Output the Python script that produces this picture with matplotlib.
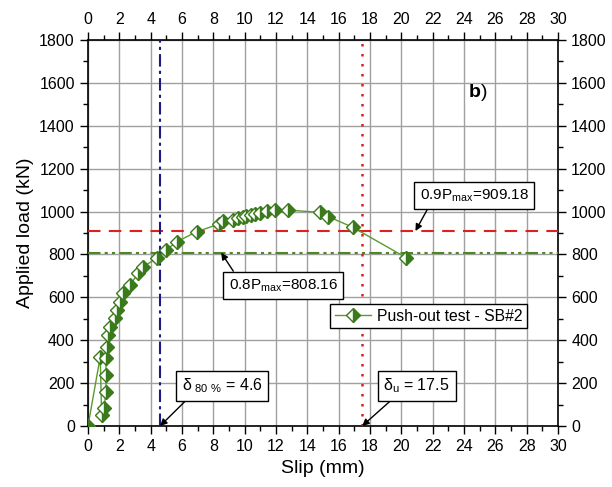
import matplotlib.pyplot as plt
import numpy as np
from matplotlib.ticker import MultipleLocator

plt.rcParams['font.family'] = ['Liberation Sans', 'DejaVu Sans']

# Push-out test SB#2 data (slip in mm, load in kN)
slip = [0.0, 0.78, 0.87, 1.02, 1.15, 1.15, 1.15, 1.23, 1.3, 1.4, 1.72, 1.83, 2.04,
        2.25, 2.68, 3.21, 3.53, 4.38, 4.98, 5.7, 6.94, 8.38, 8.64, 9.27, 9.6, 9.87,
        10.1, 10.4, 10.66, 10.98, 11.4, 11.93, 12.74, 14.8, 15.34, 16.89, 20.3]
load = [0, 322, 51, 84, 159, 238, 317, 370, 424, 463, 503, 541, 580,
        619, 658, 712, 743, 782, 821, 860, 906, 942, 957, 961, 968, 976,
        979, 984, 989, 995, 1003, 1007, 1007, 996, 976, 927, 785]

p90 = 909.18
p80 = 808.16
delta80 = 4.6
delta_u = 17.5

fig = plt.figure(figsize=(6.12, 4.87), dpi=100)
ax = fig.add_axes([0.1438, 0.1253, 0.768, 0.7926])

ax.plot(slip, load, color='#5a9a30', lw=1, marker='D', markersize=7.3,
        fillstyle='right', markerfacecolor='#3b7a1c', markeredgecolor='#3b7a1c',
        markerfacecoloralt='white', mew=1, label='Push-out test - SB#2', zorder=5)

ax.axhline(p90, color='#dd2020', lw=1.5, ls=(0, (6, 4)), zorder=3)
ax.axhline(p80, color='#4a8a20', lw=1.5, ls=(0, (6, 2, 1.5, 2, 1.5, 2)), zorder=3)
ax.axvline(delta80, color='#1a1a80', lw=1.5, ls=(0, (6, 2, 1.5, 2)), zorder=3)
ax.axvline(delta_u, color='#dd2020', lw=1.8, ls=(0, (1, 3)), zorder=3)

ax.set_xlim(0, 30)
ax.set_ylim(0, 1800)
ax.xaxis.set_major_locator(MultipleLocator(2))
ax.xaxis.set_minor_locator(MultipleLocator(1))
ax.yaxis.set_major_locator(MultipleLocator(200))
ax.yaxis.set_minor_locator(MultipleLocator(100))
ax.grid(True, which='major', color='#a0a0a0', lw=1)
ax.set_axisbelow(True)
ax.tick_params(which='both', direction='out', top=True, right=True,
               labeltop=True, labelright=True, labelsize=11.5, width=1)
ax.tick_params(which='major', length=6)
ax.tick_params(which='minor', length=3.5)
for s in ax.spines.values():
    s.set_linewidth(1.2)

ax.set_xlabel('Slip (mm)', fontsize=14)
ax.set_ylabel('Applied load (kN)', fontsize=14)

box = dict(boxstyle='square,pad=0.36', fc='white', ec='black', lw=1)


def arw(rx, ry):
    return dict(arrowstyle='-|>', color='black', lw=1, mutation_scale=10,
                relpos=(rx, ry), shrinkA=0, shrinkB=0)


ax.annotate('0.9P$_{\\mathregular{max}}$=909.18', xy=(20.9, p90), xytext=(21.16, 1075),
            fontsize=11, bbox=box, arrowprops=arw(0.1, 0), ha='left', va='center', zorder=6)
ax.annotate('0.8P$_{\\mathregular{max}}$=808.16', xy=(8.5, p80), xytext=(8.97, 655),
            fontsize=11, bbox=box, arrowprops=arw(0.08, 1), ha='left', va='center', zorder=6)
ax.annotate('δ$_{\\mathregular{\\ 80\\ \\%}}$ = 4.6', xy=(delta80, 0), xytext=(5.97, 187),
            fontsize=11.5, bbox=box, arrowprops=arw(0.12, 0), ha='left', va='center', zorder=6)
ax.annotate('δ$_{\\mathregular{u}}$ = 17.5', xy=(delta_u, 0), xytext=(18.86, 187),
            fontsize=11.5, bbox=box, arrowprops=arw(0.2, 0), ha='left', va='center', zorder=6)

ax.text(24.3, 1555, 'b', fontsize=14, fontweight='bold', ha='left', va='center')
ax.text(25.1, 1555, ')', fontsize=14, ha='left', va='center')

leg = ax.legend(loc='upper left', bbox_to_anchor=(0.515, 0.316), fontsize=11.3,
                frameon=True, fancybox=False, edgecolor='black', framealpha=1,
                borderpad=0.3, handlelength=2.3, handletextpad=0.4, borderaxespad=0)
leg.get_frame().set_linewidth(1)

fig.savefig('out.png', dpi=100)
